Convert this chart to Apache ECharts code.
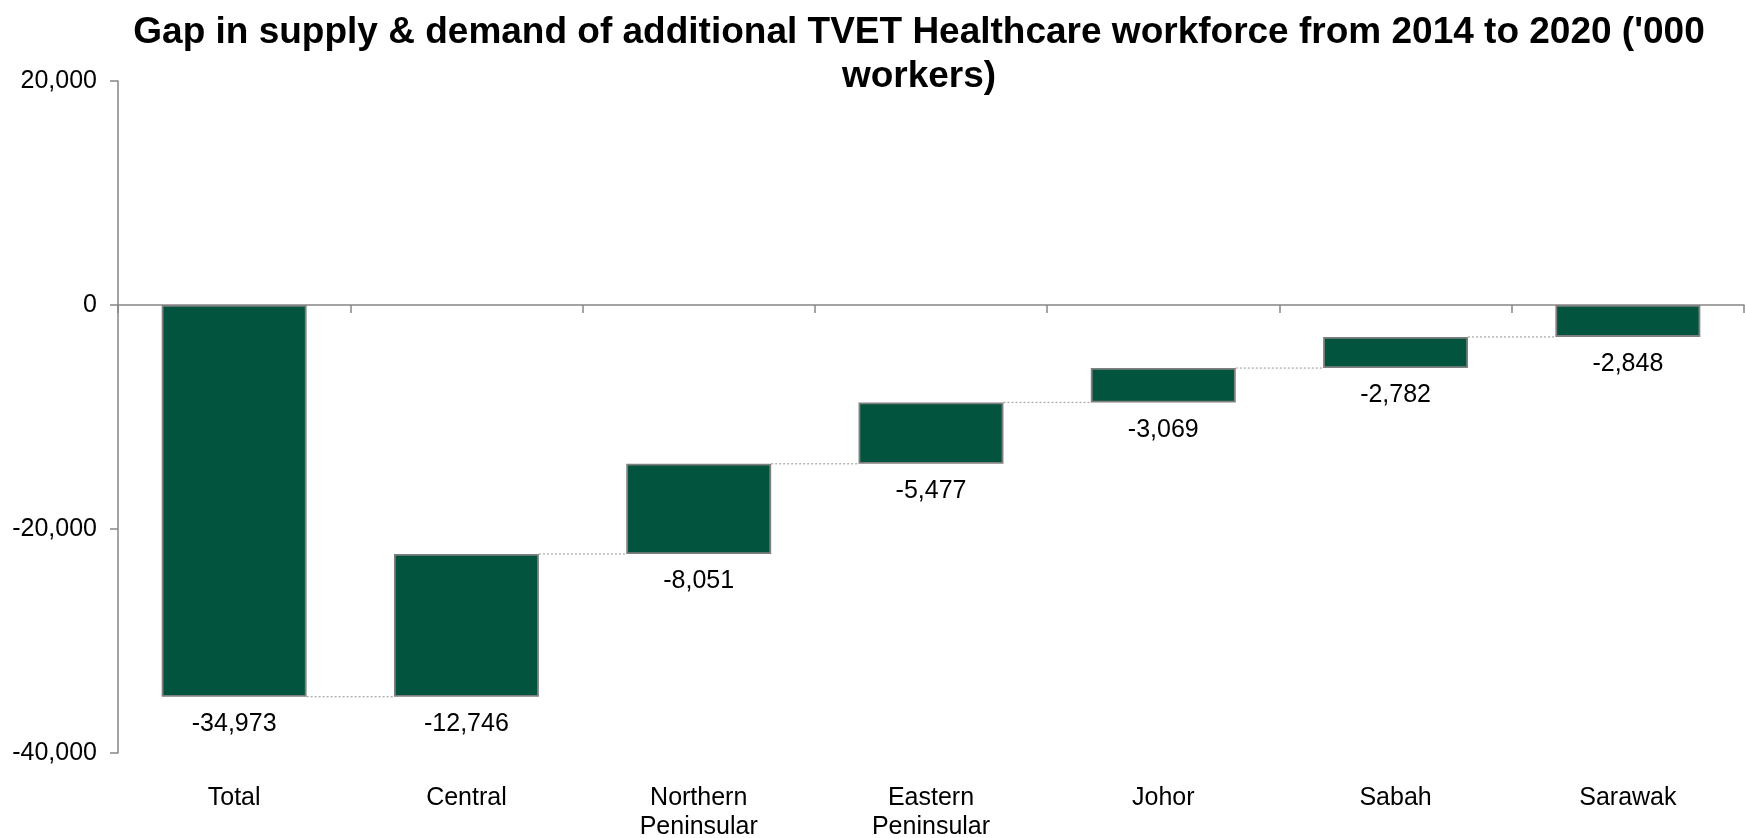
<!DOCTYPE html>
<html>
<head>
<meta charset="utf-8">
<title>TVET Healthcare workforce gap</title>
<script src="https://cdn.jsdelivr.net/npm/echarts@6/dist/echarts.min.js"></script>
<style>
  html, body { margin: 0; padding: 0; background: #ffffff; }
  #chart { width: 1745px; height: 838px; }
</style>
</head>
<body>
<div id="chart"></div>
<script>
// Regions of the waterfall, first bar is the overall total
const categories = ['Total', 'Central', 'Northern\nPeninsular', 'Eastern\nPeninsular', 'Johor', 'Sabah', 'Sarawak'];
// Gap per bar ('000 workers)
const gapValues = [-34973, -12746, -8051, -5477, -3069, -2782, -2848];
// Value axis ticks
const yMin = -40000;
const yMax = 20000;
const yStep = 20000;

const FONT = '"Liberation Sans", Arial, sans-serif';
const BAR_COLOR = '#03543F';
const BAR_WIDTH_RATIO = 0.624;

// Regional bars hang from the running total of the regions to their right,
// so the last region starts at zero and the first ends at the overall total.
const offsets = gapValues.map((v, i) => {
  if (i === 0) return 0;
  let s = 0;
  for (let j = i + 1; j < gapValues.length; j++) s += gapValues[j];
  return s;
});
// Connector level between bar i and bar i+1: the lower edge of bar i+1
const connectors = [];
for (let i = 0; i < gapValues.length - 1; i++) {
  connectors.push([i, offsets[i + 1] + gapValues[i + 1]]);
}

const fmt = v => Number(v).toLocaleString('en-US');

const chart = echarts.init(document.getElementById('chart'), null, { renderer: 'canvas' });

chart.setOption({
  animation: false,
  backgroundColor: '#ffffff',
  textStyle: { fontFamily: FONT },
  title: {
    text: "Gap in supply & demand of additional TVET Healthcare workforce from 2014 to 2020 ('000\nworkers)",
    left: 914,
    top: 6,
    textAlign: 'center',
    textStyle: {
      fontFamily: FONT,
      fontSize: 37,
      fontWeight: 'bold',
      color: '#000000',
      lineHeight: 44
    }
  },
  grid: {
    left: 118,
    right: 1,
    top: 81,
    bottom: 85,
    containLabel: false,
    outerBoundsMode: 'none'
  },
  xAxis: [
    {
      // axis line with boundary ticks along the zero line
      type: 'category',
      data: categories,
      position: 'bottom',
      boundaryGap: true,
      axisLine: { show: true, onZero: true, lineStyle: { color: '#868686', width: 1.5 } },
      axisTick: { show: true, interval: 0, length: 8, lineStyle: { color: '#868686', width: 1.5 } },
      axisLabel: { show: false },
      splitLine: { show: false }
    },
    {
      // category names along the bottom of the plot
      type: 'category',
      data: categories,
      position: 'bottom',
      boundaryGap: true,
      axisLine: { show: false, onZero: false },
      axisTick: { show: false },
      axisLabel: {
        show: true,
        interval: 0,
        margin: 31,
        fontFamily: FONT,
        fontSize: 25,
        lineHeight: 29,
        color: '#000000'
      },
      splitLine: { show: false }
    }
  ],
  yAxis: {
    type: 'value',
    min: yMin,
    max: yMax,
    interval: yStep,
    axisLine: { show: true, onZero: false, lineStyle: { color: '#868686', width: 1.5 } },
    axisTick: { show: true, length: 8, lineStyle: { color: '#868686', width: 1.5 } },
    axisLabel: {
      margin: 21,
      fontFamily: FONT,
      fontSize: 25,
      color: '#000000',
      formatter: v => fmt(v)
    },
    splitLine: { show: false }
  },
  series: [
    {
      name: 'offset',
      type: 'bar',
      stack: 'gap',
      xAxisIndex: 0,
      barWidth: (BAR_WIDTH_RATIO * 100) + '%',
      itemStyle: { color: 'rgba(0,0,0,0)', borderWidth: 0 },
      emphasis: { disabled: true },
      silent: true,
      data: offsets
    },
    {
      name: 'gap',
      type: 'bar',
      stack: 'gap',
      xAxisIndex: 0,
      barWidth: (BAR_WIDTH_RATIO * 100) + '%',
      itemStyle: { color: BAR_COLOR, borderColor: '#808080', borderWidth: 1.8 },
      label: {
        show: true,
        position: 'bottom',
        distance: 15,
        fontFamily: FONT,
        fontSize: 25,
        color: '#000000',
        formatter: p => fmt(p.value)
      },
      data: gapValues
    },
    {
      name: 'connectors',
      type: 'custom',
      xAxisIndex: 0,
      silent: true,
      z: 1,
      renderItem: function (params, api) {
        const i = api.value(0);
        const level = api.value(1);
        const a = api.coord([i, level]);
        const b = api.coord([i + 1, level]);
        const half = api.size([1, 0])[0] * BAR_WIDTH_RATIO / 2;
        return {
          type: 'line',
          shape: { x1: a[0] + half, y1: a[1], x2: b[0] - half, y2: b[1] },
          style: { stroke: '#a6a6a6', lineWidth: 1.2, lineDash: [2, 2] }
        };
      },
      data: connectors
    }
  ]
});
</script>
</body>
</html>
